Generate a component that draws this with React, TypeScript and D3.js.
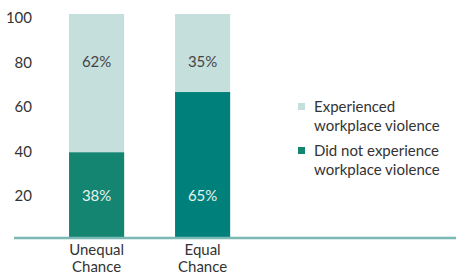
import React from 'react'
import * as d3 from 'd3'

const categories = ['Unequal Chance', 'Equal Chance']
const notExperienced = [38, 65]
const experienced = [62, 35]
const darkColors = ['#138570', '#00807a']
const yTicks = [20, 40, 60, 80, 100]
const legendItems = [
  { lines: ['Experienced', 'workplace violence'], color: '#c5dfdd' },
  { lines: ['Did not experience', 'workplace violence'], color: '#138570' },
]

const W = 456
const H = 278
const FONT = 'Lato, "Open Sans", sans-serif'

export default function App() {
  const x = d3.scaleBand<string>().domain(categories).range([43.6, 255.6]).paddingInner(0.48).paddingOuter(0.24)
  const y = d3.scaleLinear().domain([0, 100]).range([237, 14])
  const bw = x.bandwidth()

  return (
    <svg width={W} height={H} style={{ position: 'absolute', left: 0, top: 0 }} fontFamily={FONT}>
      {categories.map((c, i) => {
        const x0 = x(c)!
        const cx = x0 + bw / 2
        return (
          <g key={c}>
            <rect x={x0} y={y(100)} width={bw} height={y(notExperienced[i]) - y(100)} fill="#c5dfdd" />
            <rect x={x0} y={y(notExperienced[i])} width={bw} height={y(0) - y(notExperienced[i])} fill={darkColors[i]} />
            <text x={cx} y={y(80) + 8} textAnchor="middle" fontSize={15} fill="#444">{experienced[i]}%</text>
            <text x={cx} y={y(20) + 9} textAnchor="middle" fontSize={15} fill="#e8f3f1">{notExperienced[i]}%</text>
            {c.split(' ').map((w, j) => (
              <text key={w} x={cx} y={255 + j * 17} textAnchor="middle" fontSize={15} fill="#333">{w}</text>
            ))}
          </g>
        )
      })}
      <line x1={14} x2={W} y1={y(0) + 1} y2={y(0) + 1} stroke="#7ab9b5" strokeWidth={2.5} />
      {yTicks.map(t => (
        <text key={t} x={32} y={y(t) + 9} textAnchor="end" fontSize={15} fill="#333">{t}</text>
      ))}
      {legendItems.map((item, i) => (
        <g key={i} transform={`translate(298, ${103 + i * 44})`}>
          <rect x={0} y={0} width={7} height={7} fill={item.color} />
          {item.lines.map((l, j) => (
            <text key={j} x={16} y={9 + j * 19} fontSize={15} fill="#333">{l}</text>
          ))}
        </g>
      ))}
    </svg>
  )
}
